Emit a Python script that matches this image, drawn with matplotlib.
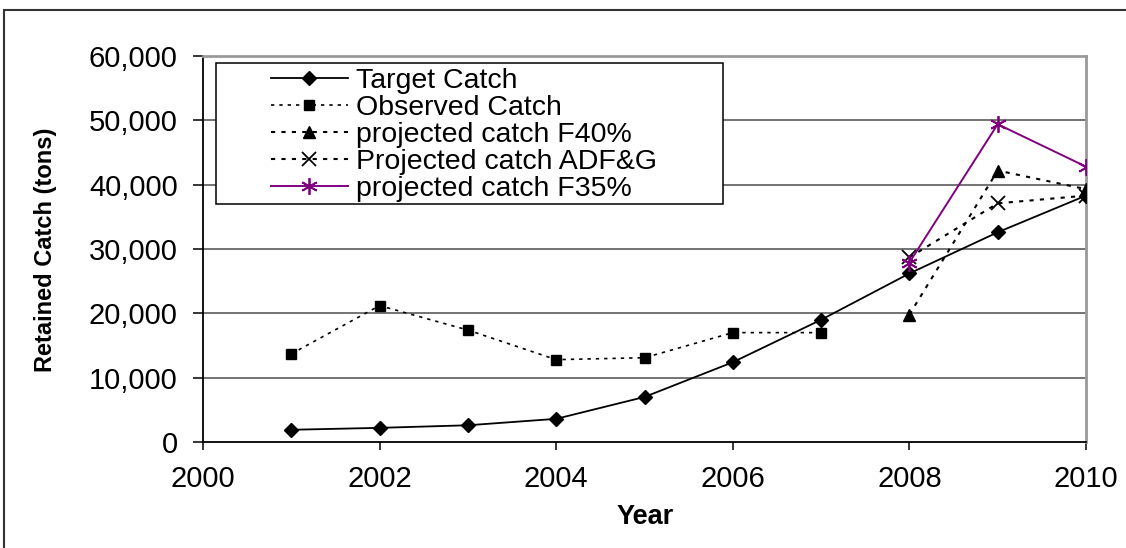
import matplotlib
matplotlib.use("Agg")
import matplotlib.pyplot as plt
from matplotlib.patches import Rectangle

plt.rcParams['font.family'] = ['Liberation Sans', 'DejaVu Sans']

years_target = [2001, 2002, 2003, 2004, 2005, 2006, 2007, 2008, 2009, 2010]
target_catch = [1900, 2200, 2600, 3600, 7000, 12400, 19000, 26200, 32600, 38300]

years_observed = [2001, 2002, 2003, 2004, 2005, 2006, 2007]
observed_catch = [13700, 21200, 17400, 12800, 13100, 17000, 17000]

years_proj = [2008, 2009, 2010]
proj_f40 = [19800, 42200, 39300]
proj_adfg = [28700, 37100, 38300]
proj_f35 = [27900, 49400, 42800]

xticks = [2000, 2002, 2004, 2006, 2008, 2010]
yticks = [0, 10000, 20000, 30000, 40000, 50000, 60000]

W, H = 1126, 548
fig = plt.figure(figsize=(W / 100, H / 100), dpi=100)
ax = fig.add_axes([203 / W, 1 - 442 / H, (1086 - 203) / W, (442 - 56) / H])

# outer chart border
fig.patches.append(Rectangle((3.5 / W, -0.1), 1.2, 1 - 10.5 / H + 0.1, transform=fig.transFigure,
                             fill=False, edgecolor='#333333', linewidth=1.5))

for y in yticks[1:-1]:
    ax.axhline(y, color='#4d4d4d', linewidth=1.1, zorder=1)

dash = (0, (2, 3))
h1, = ax.plot(years_target, target_catch, color='black', linewidth=1.3, marker='D', markersize=7,
              label='Target Catch', zorder=4)
h2, = ax.plot(years_observed, observed_catch, color='black', linewidth=1.2, linestyle=dash,
              marker='s', markersize=7, label='Observed Catch', zorder=4)
h3, = ax.plot(years_proj, proj_f40, color='black', linewidth=1.5, linestyle=dash, marker='^',
              markersize=9, label='projected catch F40%', zorder=4)
h4, = ax.plot(years_proj, proj_adfg, color='black', linewidth=1.5, linestyle=dash, marker='x',
              markersize=10, markeredgewidth=1.3, label='Projected catch ADF&G', zorder=4)
h5, = ax.plot(years_proj, proj_f35, color='#800080', linewidth=1.4, marker=(6, 2, 0),
              markersize=12, markeredgewidth=1.3, label='projected catch F35%', zorder=5)

ax.set_xlim(2000, 2010)
ax.set_ylim(0, 60000)
ax.set_xticks(xticks)
ax.set_yticks(yticks)
ax.set_yticklabels([f'{v:,}' for v in yticks])
ax.tick_params(axis='both', labelsize=21, colors='black', width=1.1)
ax.tick_params(axis='x', direction='out', length=5.5, pad=11)
ax.tick_params(axis='y', direction='out', length=7.2, pad=11)

for s in ['top', 'right']:
    ax.spines[s].set_color('#999999')
    ax.spines[s].set_linewidth(2)
for s in ['left', 'bottom']:
    ax.spines[s].set_color('black')
    ax.spines[s].set_linewidth(1.3)

fig.text(645 / W, 1 - 517 / H, 'Year', fontsize=19.5, fontweight='bold', ha='center', va='center')
fig.text(46 / W, 1 - 250 / H, 'Retained Catch (tons)', fontsize=17, fontweight='bold',
         rotation=90, ha='center', va='center')

# legend frame (Excel-style, with wide left margin)
fig.patches.append(Rectangle((216 / W, 1 - 204 / H), (723 - 216) / W, (204 - 63) / H,
                             transform=fig.transFigure, facecolor='white', edgecolor='black',
                             linewidth=1.1, zorder=9))
leg = fig.legend(handles=[h1, h2, h3, h4, h5], loc='upper left',
                 bbox_to_anchor=(271 / W, 1 - 68 / H), bbox_transform=fig.transFigure,
                 fontsize=20.5, frameon=False, handlelength=2.7, handletextpad=0.28,
                 labelspacing=0.035, borderpad=0, borderaxespad=0)
leg.set_zorder(10)

fig.savefig('out.png', dpi=100)
